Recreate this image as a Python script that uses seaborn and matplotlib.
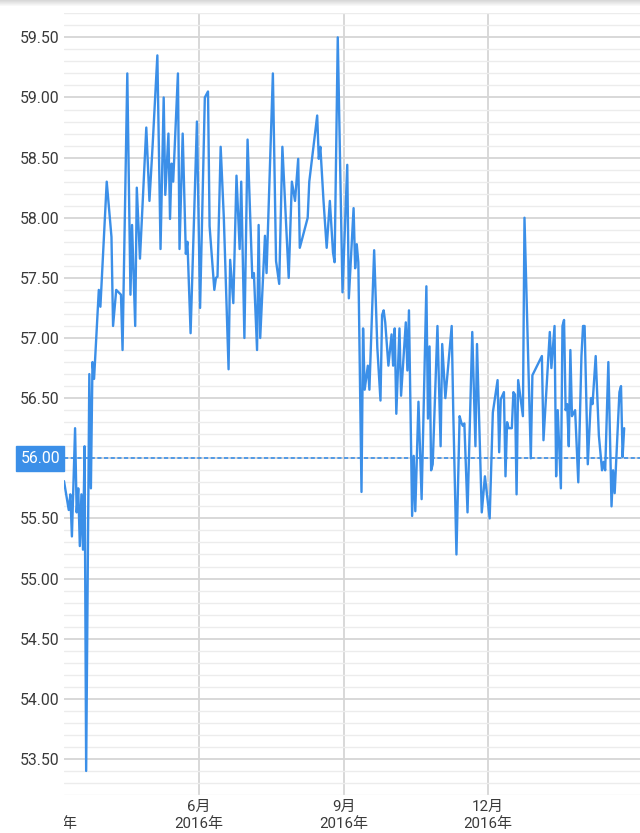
import matplotlib
matplotlib.use('Agg')
import matplotlib.pyplot as plt
import matplotlib.dates as mdates
import matplotlib.ticker as mticker
import matplotlib.transforms as mtransforms
from matplotlib.patches import Rectangle
from matplotlib.colors import LinearSegmentedColormap
import numpy as np
import pandas as pd
import seaborn as sns

## values
dates = [
    '2016-03-08', '2016-03-11', '2016-03-12', '2016-03-13', '2016-03-15', '2016-03-16', '2016-03-17',
    '2016-03-18', '2016-03-19', '2016-03-20', '2016-03-21', '2016-03-22', '2016-03-24', '2016-03-25',
    '2016-03-26', '2016-03-27', '2016-03-30', '2016-03-31', '2016-04-04', '2016-04-07', '2016-04-08',
    '2016-04-10', '2016-04-13', '2016-04-14', '2016-04-17', '2016-04-19', '2016-04-20', '2016-04-22',
    '2016-04-23', '2016-04-25', '2016-04-29', '2016-05-01', '2016-05-03', '2016-05-06', '2016-05-08',
    '2016-05-10', '2016-05-11', '2016-05-13', '2016-05-14', '2016-05-15', '2016-05-16', '2016-05-19',
    '2016-05-20', '2016-05-22', '2016-05-24', '2016-05-25', '2016-05-27', '2016-05-31', '2016-06-02',
    '2016-06-05', '2016-06-07', '2016-06-08', '2016-06-11', '2016-06-12', '2016-06-13', '2016-06-15',
    '2016-06-17', '2016-06-20', '2016-06-21', '2016-06-23', '2016-06-25', '2016-06-27', '2016-06-28',
    '2016-06-30', '2016-07-02', '2016-07-05', '2016-07-06', '2016-07-08', '2016-07-09', '2016-07-10',
    '2016-07-13', '2016-07-14', '2016-07-18', '2016-07-20', '2016-07-22', '2016-07-24', '2016-07-28',
    '2016-07-30', '2016-08-01', '2016-08-03', '2016-08-04', '2016-08-09', '2016-08-10', '2016-08-15',
    '2016-08-16', '2016-08-17', '2016-08-19', '2016-08-21', '2016-08-23', '2016-08-25', '2016-08-26',
    '2016-08-28', '2016-08-31', '2016-09-03', '2016-09-04', '2016-09-07', '2016-09-08', '2016-09-09',
    '2016-09-10', '2016-09-12', '2016-09-13', '2016-09-14', '2016-09-16', '2016-09-17', '2016-09-20',
    '2016-09-22', '2016-09-24', '2016-09-25', '2016-09-26', '2016-09-27', '2016-09-29', '2016-10-01',
    '2016-10-02', '2016-10-03', '2016-10-04', '2016-10-06', '2016-10-07', '2016-10-10', '2016-10-11',
    '2016-10-12', '2016-10-14', '2016-10-15', '2016-10-16', '2016-10-18', '2016-10-20', '2016-10-23',
    '2016-10-24', '2016-10-25', '2016-10-26', '2016-10-27', '2016-10-30', '2016-11-01', '2016-11-02',
    '2016-11-04', '2016-11-08', '2016-11-09', '2016-11-11', '2016-11-13', '2016-11-14', '2016-11-15',
    '2016-11-16', '2016-11-18', '2016-11-21', '2016-11-23', '2016-11-24', '2016-11-27', '2016-11-29',
    '2016-12-02', '2016-12-04', '2016-12-07', '2016-12-08', '2016-12-09', '2016-12-11', '2016-12-12',
    '2016-12-13', '2016-12-14', '2016-12-16', '2016-12-17', '2016-12-18', '2016-12-19', '2016-12-20',
    '2016-12-23', '2016-12-24', '2016-12-28', '2016-12-29', '2017-01-04', '2017-01-05', '2017-01-09',
    '2017-01-10', '2017-01-12', '2017-01-13', '2017-01-14', '2017-01-16', '2017-01-17', '2017-01-18',
    '2017-01-19', '2017-01-20', '2017-01-21', '2017-01-22', '2017-01-23', '2017-01-25', '2017-01-27',
    '2017-01-29', '2017-01-30', '2017-01-31', '2017-02-02', '2017-02-04', '2017-02-05', '2017-02-07',
    '2017-02-09', '2017-02-11', '2017-02-12', '2017-02-13', '2017-02-15', '2017-02-17', '2017-02-18',
    '2017-02-19', '2017-02-22', '2017-02-23', '2017-02-24', '2017-02-25',
]
values = [
    55.81, 55.57, 55.70, 55.35, 56.25, 55.55, 55.75,
    55.27, 55.70, 55.24, 56.10, 53.40, 56.70, 55.75,
    56.80, 56.66, 57.40, 57.26, 58.30, 57.84, 57.10,
    57.40, 57.36, 56.90, 59.20, 57.36, 57.94, 57.10,
    58.25, 57.66, 58.75, 58.14, 58.60, 59.35, 57.74,
    59.00, 58.19, 58.70, 57.99, 58.45, 58.30, 59.20,
    57.74, 58.70, 57.70, 57.80, 57.04, 58.80, 57.25,
    59.00, 59.05, 57.93, 57.40, 57.50, 57.51, 58.59,
    58.00, 56.74, 57.65, 57.29, 58.35, 57.74, 58.30,
    57.00, 58.65, 57.50, 57.54, 56.90, 57.94, 57.00,
    57.85, 57.54, 59.20, 57.64, 57.45, 58.59, 57.50,
    58.30, 58.14, 58.49, 57.75, 58.00, 58.30, 58.85,
    58.49, 58.59, 58.14, 57.75, 58.14, 57.71, 57.63,
    59.50, 57.38, 58.44, 57.33, 58.08, 57.58, 57.78,
    57.63, 55.72, 57.08, 56.57, 56.77, 56.57, 57.73,
    56.92, 56.48, 57.19, 57.23, 57.13, 56.77, 57.03,
    56.77, 57.08, 56.37, 57.08, 56.52, 57.13, 56.73,
    57.23, 55.52, 56.02, 55.56, 56.47, 55.66, 57.43,
    56.33, 56.93, 55.90, 55.95, 57.10, 56.10, 56.95,
    56.50, 57.10, 56.38, 55.20, 56.35, 56.30, 56.27,
    56.29, 55.55, 57.05, 56.10, 56.95, 55.55, 55.85,
    55.50, 56.38, 56.65, 56.05, 56.49, 56.55, 55.85,
    56.30, 56.25, 56.25, 56.55, 56.53, 55.70, 56.65,
    56.35, 58.00, 56.00, 56.69, 56.85, 56.15, 57.05,
    56.75, 57.10, 55.85, 56.40, 55.75, 57.10, 57.15,
    56.40, 56.45, 56.10, 56.90, 56.35, 56.40, 55.80,
    56.85, 57.10, 57.10, 55.95, 56.50, 56.45, 56.85,
    56.19, 55.90, 55.97, 55.90, 56.80, 55.60, 55.90,
    55.71, 56.55, 56.60, 56.01, 56.25,
]
tick_dates = ['2016-03-01', '2016-06-01', '2016-09-01', '2016-12-01']
tick_labels = ['3月\n2016年', '6月\n2016年', '9月\n2016年', '12月\n2016年']
ref_value = 56.00
x_range = ['2016-03-08', '2017-03-07']
y_range = [53.2, 59.7]

blue = '#3b8fe8'
text_col = '#3a3a3a'

sns.set_theme(style='white')
plt.rcParams['font.family'] = ['Roboto', 'Noto Sans CJK SC', 'DejaVu Sans']

df = pd.DataFrame({'date': pd.to_datetime(dates), 'value': values})

fig = plt.figure(figsize=(6.4, 8.33), dpi=100)
ax = fig.add_axes([64/640, 38/833, 576/640, 781.7/833])

sns.lineplot(data=df, x='date', y='value', ax=ax, color=blue, lw=1.7, zorder=3)
ax.axhline(ref_value, color=blue, lw=1.2, ls=(0, (2.5, 1.5)), zorder=2)

ax.set_xlim(pd.Timestamp(x_range[0]), pd.Timestamp(x_range[1]))
ax.set_ylim(*y_range)
ax.set_xlabel('')
ax.set_ylabel('')

## gridlines
ax.yaxis.set_major_locator(mticker.MultipleLocator(0.5))
ax.yaxis.set_minor_locator(mticker.MultipleLocator(0.1))
ax.yaxis.set_major_formatter(mticker.FuncFormatter(
    lambda v, p: '' if abs(v - ref_value) < 1e-6 else f'{v:.2f}'))
ax.set_xticks(pd.to_datetime(tick_dates[1:]))
ax.set_xticklabels(tick_labels[1:])
ax.xaxis.set_minor_locator(mticker.NullLocator())
ax.set_axisbelow(True)
ax.grid(which='minor', axis='y', color='#ececec', lw=1.0)
ax.grid(which='major', axis='y', color='#d6d6d6', lw=1.3)
ax.grid(which='major', axis='x', color='#d6d6d6', lw=1.3)
for s in ax.spines.values():
    s.set_visible(False)
ax.tick_params(axis='y', which='both', length=0, pad=3, labelsize=11.4, labelcolor=text_col)
ax.tick_params(axis='x', which='both', length=0, pad=3.5, labelsize=10.8, labelcolor=text_col)
for lbl in ax.get_xticklabels():
    lbl.set_linespacing(1.25)

## first tick label sits left of the plot and gets cut at the axis edge
off = mtransforms.ScaledTranslation(0, -3.5/72, fig.dpi_scale_trans)
t = ax.text(mdates.date2num(pd.Timestamp(tick_dates[0])), 0, tick_labels[0],
            transform=ax.get_xaxis_transform() + off, ha='center', va='top',
            multialignment='center', fontsize=10.8, color=text_col, linespacing=1.25)
t.set_clip_box(mtransforms.TransformedBbox(mtransforms.Bbox([[64/640, 0], [1, 1]]), fig.transFigure))
t.set_clip_on(True)

## highlighted label for the reference line
trans = mtransforms.blended_transform_factory(fig.transFigure, ax.transData)
h = 24.7 / 120.26
ax.add_patch(Rectangle((16/640, ref_value - h/2), 48/640, h, transform=trans,
                       color=blue, clip_on=False, zorder=4))
ax.text(60/640, ref_value, f'{ref_value:.2f}', transform=trans, ha='right', va='center',
        color='white', fontsize=11.4, clip_on=False, zorder=5)

## soft shadow on top edge
sh = fig.add_axes([0, 1 - 7/833, 1, 7/833])
cmap = LinearSegmentedColormap.from_list('shade', ['#d8d8d8', '#ffffff'])
sh.imshow(np.linspace(0, 1, 7).reshape(-1, 1), cmap=cmap, aspect='auto')
sh.axis('off')

fig.savefig('out.png', dpi=100)
